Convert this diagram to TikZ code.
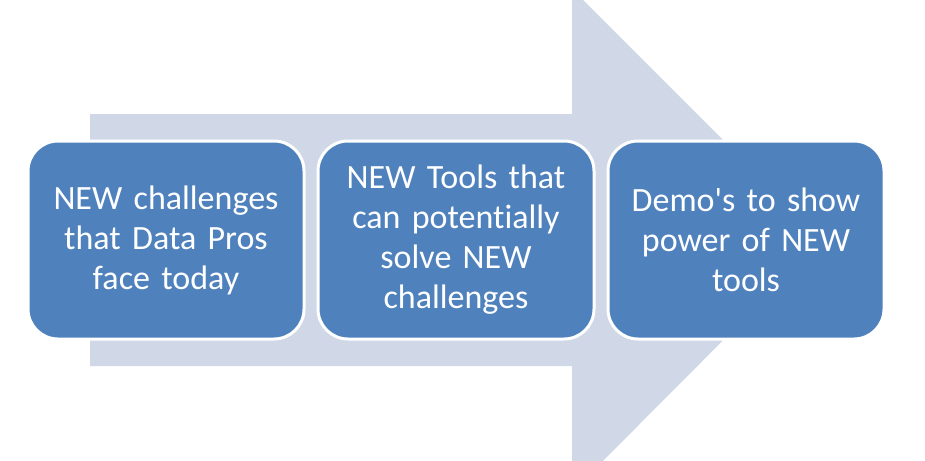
\documentclass[tikz,border=0pt]{standalone}
\usepackage{fontspec}
\newfontfamily\stagefont{Carlito}[Ligatures={NoCommon}, WordSpace=0.65]
\usetikzlibrary{positioning}

\definecolor{stageblue}{HTML}{4F81BD}
\definecolor{flowgray}{HTML}{D0D8E8}

\begin{document}
\begin{tikzpicture}[
  x=1pt, y=-1pt,
  stage/.style={draw=white, line width=3pt, rounded corners=30pt, fill=stageblue,
    text=white, align=center, text width=262pt, minimum width=276pt, minimum height=198pt,
    inner sep=0pt, font=\fontsize{34}{40}\selectfont\stagefont},
  flow/.style={fill=flowgray}
]

\useasboundingbox (0,0) rectangle (925,460);
\clip (0,0) rectangle (925,460);

% background arrow
\fill[flow] (90,114) -- (572,114) -- (572,-11) -- (823,240) -- (572,492)
  -- (572,366) -- (90,366) -- cycle;

\node[stage] (challenges) at (166,240) {NEW challenges\\that Data Pros\\face today};
\node[stage, right=11pt of challenges] (tools) {NEW Tools that\\can potentially\\solve NEW\\challenges};
\node[stage, right=11pt of tools] (demos) {Demo's to show\\power of NEW\\tools};

\end{tikzpicture}
\end{document}
